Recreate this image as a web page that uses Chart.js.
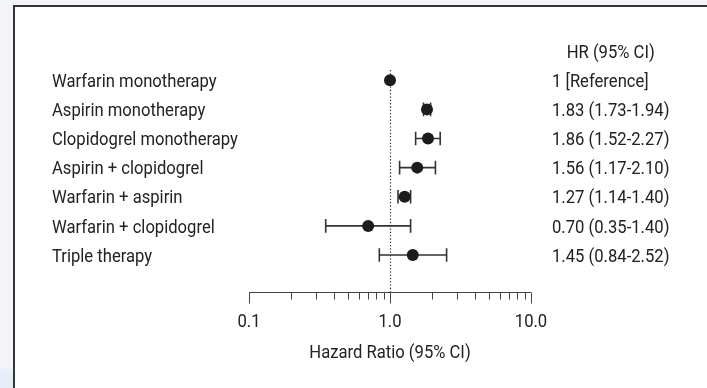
<!DOCTYPE html>
<html>
<head>
<meta charset="utf-8">
<script src="https://cdn.jsdelivr.net/npm/chart.js@4.4.1/dist/chart.umd.min.js"></script>
<style>
    html, body {
        margin: 0;
        padding: 0;
        width: 707px;
        height: 388px;
        overflow: hidden;
        background: linear-gradient(to bottom, #f4f5f8 0, #f4f5f8 366px, #e6eef9 372px, #e6eef9 100%);
    }
    .panel {
        position: absolute;
        left: 13px;
        top: 5px;
        width: 720px;
        height: 400px;
        background: #fff;
        border-left: 2px solid #363636;
        border-top: 2px solid #363636;
    }
    .wrap {
        position: absolute;
        left: 0;
        top: 0;
        width: 707px;
        height: 388px;
    }
</style>
</head>
<body>
<div class="panel"></div>
<div class="wrap"><canvas id="forest"></canvas></div>
<script>
    const groups = [
        'Warfarin monotherapy',
        'Aspirin monotherapy',
        'Clopidogrel monotherapy',
        'Aspirin + clopidogrel',
        'Warfarin + aspirin',
        'Warfarin + clopidogrel',
        'Triple therapy'
    ];
    const hazardRatio = [1, 1.83, 1.86, 1.56, 1.27, 0.70, 1.45];
    const ciLow = [null, 1.73, 1.52, 1.17, 1.14, 0.35, 0.84];
    const ciHigh = [null, 1.94, 2.27, 2.10, 1.40, 1.40, 2.52];

    const majorTicks = [0.1, 1, 10];
    const majorTickLabels = ['0.1', '1.0', '10.0'];
    const minorTicks = [0.2, 0.3, 0.4, 0.5, 0.6, 0.7, 0.8, 0.9, 2, 3, 4, 5, 6, 7, 8, 9];

    const FONT = "Roboto, 'Liberation Sans', sans-serif";
    const TEXT_SIZE = 19;
    const SQUEEZE = 0.875;   // narrow the type horizontally, condensed look
    const INK = '#222';
    const CAP = 6.8;         // half height of the whisker ends

    // row 0 holds the column header, groups start at row 1
    const hrText = hazardRatio.map((v, i) => {
        if (ciLow[i] === null) return '1 [Reference]';
        return v.toFixed(2) + ' (' + ciLow[i].toFixed(2) + '-' + ciHigh[i].toFixed(2) + ')';
    });

    const points = hazardRatio.map((v, i) => ({ x: v, y: i + 1 }));

    function drawText(ctx, text, x, y, align) {
        ctx.save();
        ctx.translate(x, y);
        ctx.scale(SQUEEZE, 1);
        ctx.textAlign = align;
        ctx.fillText(text, 0, 0);
        ctx.restore();
    }

    const forestPlugin = {
        id: 'forest',
        beforeDatasetsDraw(chart) {
            const ctx = chart.ctx;
            const xs = chart.scales.x;
            const ys = chart.scales.y;
            const area = chart.chartArea;

            // dotted line at HR = 1
            ctx.save();
            ctx.strokeStyle = '#333';
            ctx.lineWidth = 1.2;
            ctx.setLineDash([1.3, 2]);
            const x1 = Math.round(xs.getPixelForValue(1)) + 0.5;
            ctx.beginPath();
            ctx.moveTo(x1, ys.getPixelForValue(0.65));
            ctx.lineTo(x1, area.bottom);
            ctx.stroke();
            ctx.restore();

            // confidence interval whiskers
            ctx.save();
            ctx.strokeStyle = '#333';
            ctx.lineWidth = 1.6;
            hazardRatio.forEach((v, i) => {
                if (ciLow[i] === null) return;
                const y = ys.getPixelForValue(i + 1);
                const xl = xs.getPixelForValue(ciLow[i]);
                const xh = xs.getPixelForValue(ciHigh[i]);
                ctx.beginPath();
                ctx.moveTo(xl, y);
                ctx.lineTo(xh, y);
                ctx.moveTo(xl, y - CAP);
                ctx.lineTo(xl, y + CAP);
                ctx.moveTo(xh, y - CAP);
                ctx.lineTo(xh, y + CAP);
                ctx.stroke();
            });
            ctx.restore();
        },
        afterDraw(chart) {
            const ctx = chart.ctx;
            const xs = chart.scales.x;
            const ys = chart.scales.y;
            const area = chart.chartArea;
            const capShift = TEXT_SIZE * 0.35;

            ctx.save();
            ctx.fillStyle = INK;
            ctx.font = TEXT_SIZE + 'px ' + FONT;
            ctx.textBaseline = 'alphabetic';

            // group names on the left
            groups.forEach((g, i) => {
                drawText(ctx, g, 52, ys.getPixelForValue(i + 1) + capShift, 'left');
            });

            // HR column on the right
            const colX = 552;
            const colW = SQUEEZE * Math.max(...hrText.map(t => ctx.measureText(t).width));
            hrText.forEach((t, i) => {
                drawText(ctx, t, colX, ys.getPixelForValue(i + 1) + capShift, 'left');
            });
            drawText(ctx, 'HR (95% CI)', colX + colW / 2, ys.getPixelForValue(0) + capShift, 'center');

            // log axis along the bottom
            const axisY = Math.round(area.bottom) + 0.5;
            ctx.strokeStyle = '#444';
            ctx.lineWidth = 1;
            ctx.beginPath();
            ctx.moveTo(xs.getPixelForValue(majorTicks[0]), axisY);
            ctx.lineTo(xs.getPixelForValue(majorTicks[majorTicks.length - 1]), axisY);
            majorTicks.forEach(t => {
                const x = Math.round(xs.getPixelForValue(t)) + 0.5;
                ctx.moveTo(x, axisY);
                ctx.lineTo(x, axisY + 11);
            });
            minorTicks.forEach(t => {
                const x = Math.round(xs.getPixelForValue(t)) + 0.5;
                ctx.moveTo(x, axisY);
                ctx.lineTo(x, axisY + 7);
            });
            ctx.stroke();

            majorTicks.forEach((t, i) => {
                drawText(ctx, majorTickLabels[i], xs.getPixelForValue(t), axisY + 28 + capShift, 'center');
            });
            drawText(ctx, 'Hazard Ratio (95% CI)', xs.getPixelForValue(1), axisY + 59 + capShift, 'center');
            ctx.restore();
        }
    };

    const data = {
        datasets: [{
            label: 'Hazard ratio',
            data: points,
            backgroundColor: '#1c1c1c',
            borderColor: '#1c1c1c',
            borderWidth: 0,
            pointRadius: 6,
            pointHoverRadius: 6
        }]
    };

    const options = {
        responsive: true,
        maintainAspectRatio: false,
        animation: false,
        events: [],
        layout: {
            padding: { left: 249, right: 176, top: 22, bottom: 96 }
        },
        plugins: {
            legend: { display: false },
            tooltip: { enabled: false }
        },
        scales: {
            x: {
                type: 'logarithmic',
                min: 0.1,
                max: 10,
                display: false
            },
            y: {
                type: 'linear',
                reverse: true,
                min: -1,
                max: 8.27,
                display: false
            }
        }
    };

    new Chart(document.getElementById('forest'), {
        type: 'scatter',
        data: data,
        options: options,
        plugins: [forestPlugin]
    });
</script>
</body>
</html>
